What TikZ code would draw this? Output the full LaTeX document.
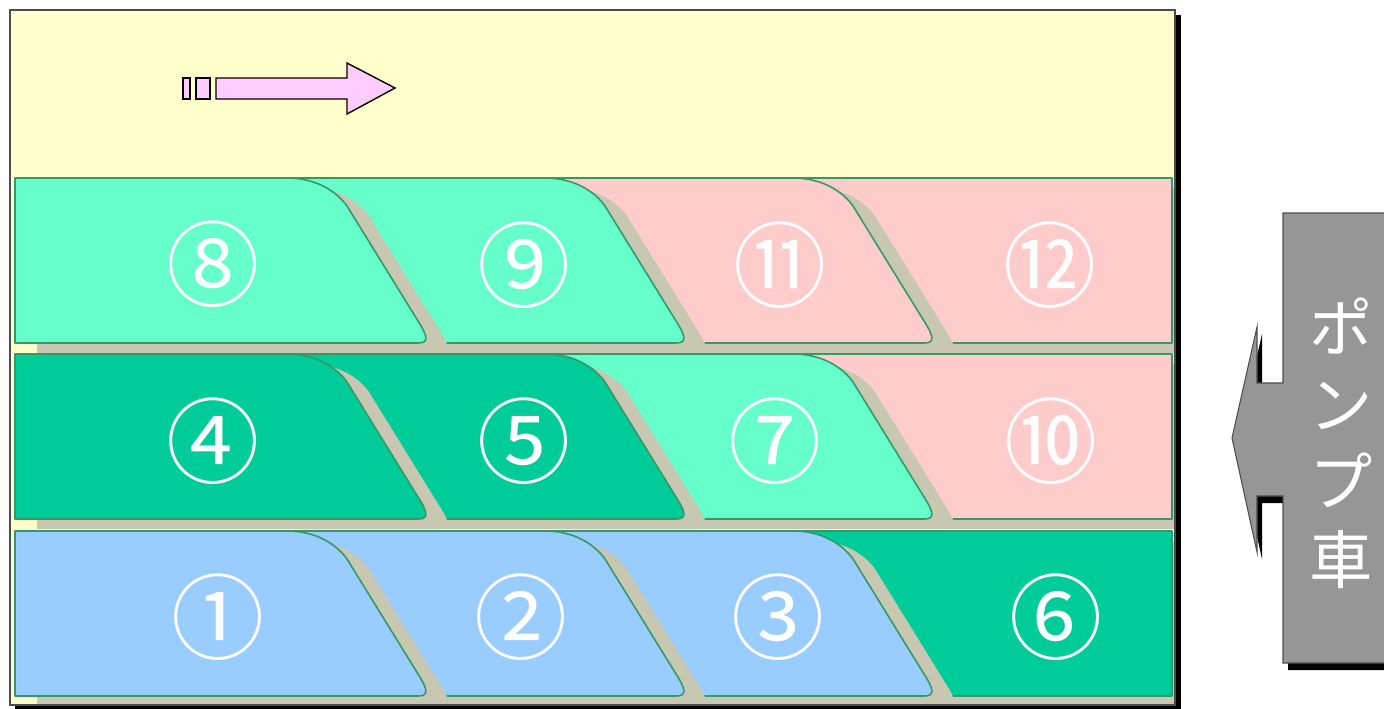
\documentclass[tikz,border=0pt]{standalone}
\usepackage{fontspec}
\usepackage{tikz}
\usetikzlibrary{positioning}
\newfontfamily\jpfont{Noto Sans CJK JP}
\definecolor{padyellow}{RGB}{255,255,204}
\definecolor{lightgreen}{RGB}{102,255,204}
\definecolor{deepgreen}{RGB}{0,204,153}
\definecolor{lanepink}{RGB}{255,204,204}
\definecolor{laneblue}{RGB}{153,204,255}
\definecolor{laneedge}{RGB}{51,153,102}
\definecolor{laneshadow}{RGB}{199,199,178}
\definecolor{arrowpink}{RGB}{255,204,255}
\definecolor{pumpgray}{RGB}{150,150,150}
% one pouring lane: left x, right x, top y
\newcommand{\lanepath}[3]{%
  (#1,#3) -- ({#2-145},#3)
  .. controls ({#2-115},#3) and ({#2-95},{#3+14}) .. ({#2-85},{#3+28})
  -- ({#2-14},{#3+143})
  .. controls ({#2-3},{#3+160}) and ({#2-4},{#3+165}) .. ({#2-14},{#3+165})
  -- (#1,{#3+165}) -- cycle}

\begin{document}
\begin{tikzpicture}[
  x=0.02cm, y=-0.02cm,
  lane/.style={draw=laneedge, line width=0.9pt, line join=round},
  shade/.style={fill=laneshadow, shift={(22,10)}},
  num/.style={text=white, font=\jpfont\fontsize{53}{53}\selectfont, inner sep=0pt},
  pumptext/.style={text=white, font=\jpfont\fontsize{36}{44}\selectfont,
                   align=center, inner sep=0pt}
]
\useasboundingbox (0,0) rectangle (1384,708);

% Slab area
\fill[black] (15,15) rectangle (1181,711);
\fill[padyellow] (10,10) rectangle (1175,705);

\begin{scope}
\clip (10,10) rectangle (1175,705);
% Row 3
\fill[shade] (788,178) rectangle (1172,343);
\draw[lane, fill=lanepink] (788,178) rectangle (1172,343);
\fill[shade] \lanepath{538}{938}{178};
\draw[lane, fill=lanepink] \lanepath{538}{938}{178};
\fill[shade] \lanepath{282}{690}{178};
\draw[lane, fill=lightgreen] \lanepath{282}{690}{178};
\fill[shade] \lanepath{15}{432}{178};
\draw[lane, fill=lightgreen] \lanepath{15}{432}{178};

% Row 2
\fill[shade] (788,354) rectangle (1172,519);
\draw[lane, fill=lanepink] (788,354) rectangle (1172,519);
\fill[shade] \lanepath{538}{938}{354};
\draw[lane, fill=lightgreen] \lanepath{538}{938}{354};
\fill[shade] \lanepath{282}{690}{354};
\draw[lane, fill=deepgreen] \lanepath{282}{690}{354};
\fill[shade] \lanepath{15}{432}{354};
\draw[lane, fill=deepgreen] \lanepath{15}{432}{354};

% Row 1
\fill[shade] (788,531) rectangle (1172,696);
\draw[lane, fill=deepgreen] (788,531) rectangle (1172,696);
\fill[shade] \lanepath{538}{938}{531};
\draw[lane, fill=laneblue] \lanepath{538}{938}{531};
\fill[shade] \lanepath{282}{690}{531};
\draw[lane, fill=laneblue] \lanepath{282}{690}{531};
\fill[shade] \lanepath{15}{432}{531};
\draw[lane, fill=laneblue] \lanepath{15}{432}{531};
\end{scope}
\draw[black!70, line width=0.6pt] (10,10) rectangle (1175,705);

% Pour order
\node[num] (n8) at (213,264) {⑧};
\node[num] (n9) at (524,265) {⑨};
\node[num] (n11) at (780,265) {⑪};
\node[num] (n12) at (1050,265) {⑫};
\node[num] (n4) at (213,441) {④};
\node[num] (n5) at (524,441) {⑤};
\node[num] (n7) at (775,441) {⑦};
\node[num] (n10) at (1051,441) {⑩};
\node[num] (n1) at (218,617) {①};
\node[num] (n2) at (521,617) {②};
\node[num] (n3) at (778,617) {③};
\node[num] (n6) at (1056,617) {⑥};

% Direction arrow
\draw[fill=arrowpink, line width=0.8pt] (183,78) rectangle (190,99);
\draw[fill=arrowpink, line width=0.8pt] (196,78) rectangle (210,99);
\draw[fill=arrowpink, line width=0.8pt, line join=miter]
  (216,78) -- (347,78) -- (347,63) -- (395,88) -- (347,114) -- (347,99) -- (216,99) -- cycle;

% Pump truck
\fill[black, shift={(5,7)}]
  (1283,213) -- (1390,213) -- (1390,663) -- (1283,663) -- (1283,496) -- (1257,496)
  -- (1257,552) -- (1232,438) -- (1257,327) -- (1257,383) -- (1283,383) -- cycle;
\draw[fill=pumpgray, draw=black!70, line width=0.6pt]
  (1283,213) -- (1390,213) -- (1390,663) -- (1283,663) -- (1283,496) -- (1257,496)
  -- (1257,552) -- (1232,438) -- (1257,327) -- (1257,383) -- (1283,383) -- cycle;
\node[pumptext] (pump) at (1341,443) {ポ\\ン\\プ\\車};
\end{tikzpicture}
\end{document}
